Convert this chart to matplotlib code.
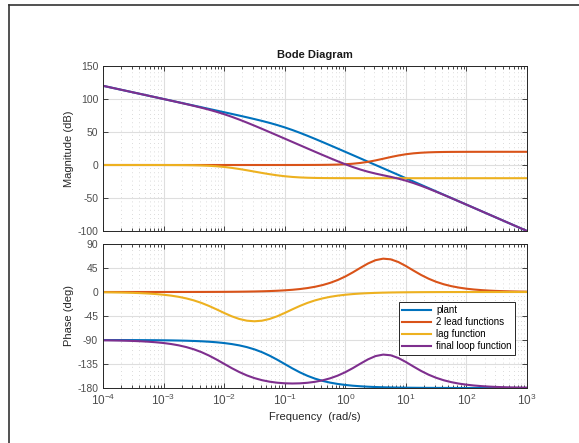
import matplotlib
matplotlib.use('Agg')
from matplotlib import pyplot as plt
from matplotlib.lines import Line2D
from matplotlib.ticker import LogLocator, NullFormatter

# frequency grid: log10(rad/s), eighth of a decade from 1e-4 to 1e3
freq_exp = [-4, -3.875, -3.75, -3.625, -3.5, -3.375, -3.25, -3.125,
            -3, -2.875, -2.75, -2.625, -2.5, -2.375, -2.25, -2.125,
            -2, -1.875, -1.75, -1.625, -1.5, -1.375, -1.25, -1.125,
            -1, -0.875, -0.75, -0.625, -0.5, -0.375, -0.25, -0.125,
            0, 0.125, 0.25, 0.375, 0.5, 0.625, 0.75, 0.875,
            1, 1.125, 1.25, 1.375, 1.5, 1.625, 1.75, 1.875,
            2, 2.125, 2.25, 2.375, 2.5, 2.625, 2.75, 2.875,
            3]

plant_mag = [120.0, 117.5, 115.0, 112.5, 110.0, 107.5, 105.0, 102.5,
             100.0, 97.5, 95.0, 92.5, 90.0, 87.49, 84.99, 82.48,
             79.96, 77.42, 74.87, 72.26, 69.59, 66.79, 63.81, 60.56,
             56.99, 53.06, 48.81, 44.29, 39.59, 34.76, 29.87, 24.92,
             19.96, 14.98, 9.99, 4.99, 0.0, -5.0, -10.0, -15.0,
             -20.0, -25.0, -30.0, -35.0, -40.0, -45.0, -50.0, -55.0,
             -60.0, -65.0, -70.0, -75.0, -80.0, -85.0, -90.0, -95.0,
             -100.0]
lead_mag = [0.0, 0.0, 0.0, 0.0, 0.0, 0.0, 0.0, 0.0,
            0.0, 0.0, 0.0, 0.0, 0.0, 0.0, 0.0, 0.0,
            0.0, 0.0, 0.0, 0.0, 0.001, 0.002, 0.004, 0.008,
            0.012, 0.022, 0.039, 0.069, 0.123, 0.217, 0.382, 0.664,
            1.14, 1.92, 3.10, 4.79, 6.97, 9.48, 12.05, 14.39,
            16.28, 17.67, 18.59, 19.17, 19.52, 19.73, 19.85, 19.91,
            19.95, 19.97, 19.98, 19.99, 20.0, 20.0, 20.0, 20.0,
            20.0]
lag_mag = [0.0, 0.0, 0.0, 0.0, 0.0, -0.01, -0.01, -0.02,
           -0.04, -0.08, -0.13, -0.24, -0.41, -0.70, -1.18, -1.91,
           -2.97, -4.36, -6.06, -7.97, -10.0, -12.03, -13.94, -15.64,
           -17.03, -18.09, -18.82, -19.30, -19.59, -19.77, -19.87, -19.92,
           -19.96, -19.98, -19.99, -19.99, -20.0, -20.0, -20.0, -20.0,
           -20.0, -20.0, -20.0, -20.0, -20.0, -20.0, -20.0, -20.0,
           -20.0, -20.0, -20.0, -20.0, -20.0, -20.0, -20.0, -20.0,
           -20.0]
loop_mag = [120.0, 117.5, 115.0, 112.5, 110.0, 107.49, 104.99, 102.48,
            99.96, 97.42, 94.87, 92.26, 89.59, 86.79, 83.81, 80.56,
            76.99, 73.06, 68.81, 64.29, 59.59, 54.77, 49.87, 44.93,
            39.97, 35.00, 30.03, 25.06, 20.12, 15.21, 10.38, 5.66,
            1.14, -3.08, -6.90, -10.21, -13.03, -15.52, -17.95, -20.61,
            -23.72, -27.34, -31.41, -35.83, -40.48, -45.27, -50.15, -55.09,
            -60.05, -65.03, -70.02, -75.01, -80.0, -85.0, -90.0, -95.0,
            -100.0]

plant_ph = [-90.06, -90.08, -90.10, -90.14, -90.18, -90.24, -90.32, -90.43,
            -90.57, -90.76, -91.02, -91.36, -91.81, -92.42, -93.22, -94.29,
            -95.71, -97.60, -100.08, -103.34, -107.55, -112.87, -119.36, -126.87,
            -135.0, -143.14, -150.64, -157.13, -162.45, -166.66, -169.92, -172.40,
            -174.29, -175.71, -176.78, -177.59, -178.19, -178.64, -178.98, -179.24,
            -179.43, -179.57, -179.68, -179.76, -179.82, -179.86, -179.90, -179.92,
            -179.94, -179.96, -179.97, -179.98, -179.98, -179.99, -179.99, -179.99,
            -179.99]
lead_ph = [0.0, 0.0, 0.01, 0.01, 0.01, 0.01, 0.02, 0.02,
           0.03, 0.04, 0.06, 0.07, 0.10, 0.13, 0.18, 0.23,
           0.31, 0.42, 0.56, 0.74, 0.99, 1.32, 1.75, 2.34,
           3.12, 4.15, 5.53, 7.37, 9.79, 12.99, 17.14, 22.46,
           29.05, 36.86, 45.36, 53.46, 59.68, 62.51, 61.26, 56.26,
           48.72, 40.23, 32.06, 24.95, 19.12, 14.51, 10.96, 8.26,
           6.20, 4.66, 3.50, 2.62, 1.97, 1.48, 1.11, 0.83,
           0.62]
lag_ph = [-0.52, -0.69, -0.92, -1.22, -1.63, -2.17, -2.90, -3.86,
          -5.14, -6.83, -9.06, -11.98, -15.74, -20.45, -26.14, -32.58,
          -39.29, -45.54, -50.56, -53.79, -54.90, -53.79, -50.56, -45.54,
          -39.29, -32.58, -26.14, -20.45, -15.74, -11.98, -9.06, -6.83,
          -5.14, -3.86, -2.90, -2.17, -1.63, -1.22, -0.92, -0.69,
          -0.52, -0.39, -0.29, -0.22, -0.16, -0.12, -0.09, -0.07,
          -0.05, -0.04, -0.03, -0.02, -0.02, -0.01, -0.01, -0.01,
          -0.01]
loop_ph = [-90.58, -90.76, -91.01, -91.35, -91.80, -92.40, -93.20, -94.27,
           -95.68, -97.55, -100.02, -103.27, -107.45, -112.73, -119.18, -126.63,
           -134.69, -142.72, -150.08, -156.39, -161.46, -165.35, -168.17, -170.07,
           -171.17, -171.56, -171.25, -170.22, -168.40, -165.65, -161.84, -156.78,
           -150.38, -142.71, -134.32, -126.30, -120.14, -117.35, -118.64, -123.67,
           -131.23, -139.73, -147.91, -155.03, -160.86, -165.47, -169.03, -171.74,
           -173.79, -175.34, -176.50, -177.38, -178.03, -178.52, -178.89, -179.17,
           -179.38]

labels = ['plant', '2 lead functions', 'lag function', 'final loop function']
colors = ['#0072BD', '#D95319', '#EDB120', '#7E2F8E']

freq = [10.0 ** e for e in freq_exp]

plt.rcParams['font.family'] = ['Liberation Sans', 'DejaVu Sans']
plt.rcParams['mathtext.fontset'] = 'custom'
plt.rcParams['mathtext.rm'] = 'Liberation Sans'
plt.rcParams['axes.unicode_minus'] = False

fig = plt.figure(figsize=(5.79, 4.43), dpi=100)
W, H = 579.0, 443.0
ax1 = fig.add_axes([103 / W, 1 - 231 / H, 424 / W, 165 / H])
ax2 = fig.add_axes([103 / W, 1 - 388 / H, 424 / W, 144 / H])

txt = '#4d4d4d'
for ax in (ax1, ax2):
    ax.set_xscale('log')
    ax.set_xlim(1e-4, 1e3)
    ax.xaxis.set_major_locator(LogLocator(base=10, numticks=20))
    ax.xaxis.set_minor_locator(LogLocator(base=10, subs=range(2, 10), numticks=20))
    ax.xaxis.set_minor_formatter(NullFormatter())
    ax.tick_params(which='both', direction='in', top=True, right=True, colors='#262626',
                   labelcolor=txt, labelsize=7.5, width=0.6)
    ax.tick_params(axis='x', labelsize=8.5)
    ax.tick_params(which='major', length=3.5)
    ax.tick_params(which='minor', length=2)
    ax.grid(True, which='major', color='#dedede', lw=0.8)
    ax.grid(True, which='minor', axis='x', color='#cfcfcf', lw=0.6, ls=(0, (1, 4)))
    ax.set_axisbelow(True)
    for s in ax.spines.values():
        s.set_color('#262626')
        s.set_linewidth(0.7)

for y, c in zip([plant_mag, lead_mag, lag_mag, loop_mag], colors):
    ax1.plot(freq, y, color=c, lw=1.5)
for y, c, l in zip([plant_ph, lead_ph, lag_ph, loop_ph], colors, labels):
    ax2.plot(freq, y, color=c, lw=1.5, label=l)

ax1.set_ylim(-100, 150)
ax1.set_yticks([-100, -50, 0, 50, 100, 150])
ax1.tick_params(labelbottom=False)
ax2.set_ylim(-180, 90)
ax2.set_yticks([-180, -135, -90, -45, 0, 45, 90])

ax1.set_title('Bode Diagram', fontsize=8, fontweight='bold', color='#1a1a1a', pad=6)
ax1.set_ylabel('Magnitude (dB)', fontsize=8, color='#262626', labelpad=2)
ax2.set_ylabel('Phase (deg)', fontsize=8, color='#262626', labelpad=2)
ax2.set_xlabel('Frequency  (rad/s)', fontsize=8, color='#262626', labelpad=3)

leg = ax2.legend(loc='upper right', bbox_to_anchor=(0.972, 0.597), fontsize=7, frameon=True,
                 fancybox=False, edgecolor='#262626', framealpha=1, handlelength=3.0,
                 borderpad=0.35, labelspacing=0.2, handletextpad=0.5, borderaxespad=0)
leg.get_frame().set_linewidth(0.7)

# outer frame lines (top and left)
fig.add_artist(Line2D([9 / W, 1], [1 - 5 / H, 1 - 5 / H], color='#333333', lw=1.2))
fig.add_artist(Line2D([9 / W, 9 / W], [0, 1 - 5 / H], color='#333333', lw=1.2))

fig.savefig('out.png', dpi=100)
